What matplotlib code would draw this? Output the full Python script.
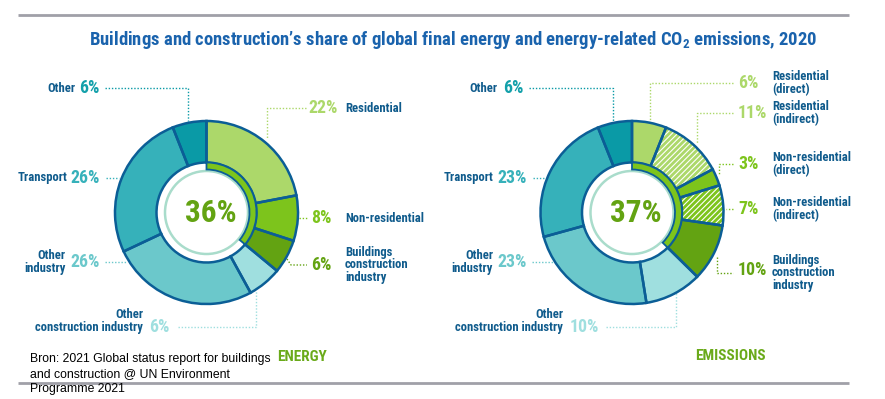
import numpy as np
import matplotlib
matplotlib.use("Agg")
import matplotlib.pyplot as plt
from matplotlib import font_manager
from matplotlib.patches import Wedge

# data
energy_names = ["Residential", "Non-residential", "Buildings\nconstruction\nindustry",
                "Other\nconstruction industry", "Other\nindustry", "Transport", "Other"]
energy_values = [22, 8, 6, 6, 26, 26, 6]
energy_share = 36

emission_names = ["Residential\n(direct)", "Residential\n(indirect)", "Non-residential\n(direct)",
                  "Non-residential\n(indirect)", "Buildings\nconstruction\nindustry",
                  "Other\nconstruction industry", "Other\nindustry", "Transport", "Other"]
emission_values = [6, 11, 3, 7, 10, 10, 23, 23, 6]
emission_hatched = [False, True, False, True, False, False, False, False, False]
emission_share = 37

# colours
LGREEN = "#acd86a"
BGREEN = "#7dc41c"
DGREEN = "#63a312"
PTEAL = "#9fdfdf"
TEAL = "#6bc8cb"
MTEAL = "#36b1ba"
DTEAL = "#0a9aa6"
EDGE = "#0b5e96"
LABEL = "#0f5b8c"
TITLE = "#1a63ad"

energy_colors = [LGREEN, BGREEN, DGREEN, PTEAL, TEAL, MTEAL, DTEAL]
emission_colors = [LGREEN, LGREEN, BGREEN, BGREEN, DGREEN, PTEAL, TEAL, MTEAL, DTEAL]
pct_colors_e = [LGREEN, BGREEN, DGREEN, PTEAL, TEAL, MTEAL, "#13a0aa"]
pct_colors_m = [LGREEN, LGREEN, BGREEN, BGREEN, DGREEN, PTEAL, TEAL, MTEAL, "#13a0aa"]

avail = {f.name for f in font_manager.fontManager.ttflist}
COND = "DejaVu Sans"
for f in ["Roboto Condensed", "Liberation Sans Narrow", "Roboto", "Open Sans"]:
    if f in avail:
        COND = f
        break
narrow = COND in ("Roboto Condensed", "Liberation Sans Narrow")
k = 1.0 if narrow else 0.85

plt.rcParams["mathtext.fontset"] = "custom"
plt.rcParams["mathtext.rm"] = COND + ":bold"
plt.rcParams["mathtext.default"] = "rm"
plt.rcParams["hatch.linewidth"] = 0.8

W, H = 885, 399
fig = plt.figure(figsize=(8.85, 3.99), dpi=100)
ax = fig.add_axes([0, 0, 1, 1])


def Y(y):
    return H - y


def lead(pts, color):
    xs = [p[0] for p in pts]
    ys = [Y(p[1]) for p in pts]
    ax.plot(xs, ys, color=color, lw=1.0, ls=(0, (1, 1.3)), zorder=2)


R, RIN = 91.5, 50


def donut(cx, cy, values, colors, share, hatched=None):
    c = (cx, Y(cy))
    wedges, _ = ax.pie(values, colors=colors, radius=R, center=c, startangle=90,
                       counterclock=False, wedgeprops=dict(width=R - RIN, linewidth=0))
    if hatched:
        for w, h in zip(wedges, hatched):
            if h:
                ax.add_patch(Wedge(c, R, w.theta1, w.theta2, width=R - RIN, facecolor="none",
                                   edgecolor="white", linewidth=0, hatch="//////", zorder=3))
    w2, _ = ax.pie(values, colors=["none"] * len(values), radius=R, center=c, startangle=90,
                   counterclock=False, wedgeprops=dict(width=R - RIN, linewidth=1.8,
                                                      edgecolor=EDGE))
    for w in w2:
        w.set_zorder(4)
    ax.add_patch(plt.Circle(c, 41.5, facecolor="none", edgecolor="#a9dccb", lw=1.8, zorder=3))
    g, _ = ax.pie([share, sum(values) - share], colors=[BGREEN, "none"], radius=RIN, center=c,
                  startangle=90, counterclock=False,
                  wedgeprops=dict(width=7, linewidth=1.3, edgecolor=EDGE))
    g[1].set_edgecolor("none")
    for w in g:
        w.set_zorder(5)
    ax.text(cx + 4, Y(cy + 1), f"{share}%", ha="center", va="center", color=DGREEN,
            fontsize=22.5 * k, fontweight="bold", family=COND, zorder=6)


donut(206.5, 212.5, energy_values, energy_colors, energy_share)
donut(632, 212.5, emission_values, emission_colors, emission_share, emission_hatched)

NS = 9.1 * k
PS = 12.8 * k


def label(name, pct, pcol, px, py, nx, ny, pha, nha):
    ax.text(px, Y(py), pct, color=pcol, fontsize=PS, fontweight="bold", family=COND,
            ha=pha, va="center")
    ax.text(nx, Y(ny), name, color=LABEL, fontsize=NS, fontweight="bold", family=COND,
            ha=nha, va="center", linespacing=0.92, multialignment=nha)


# energy labels
e_pos = [
    (338, 108, 345, 108, "right", "left"),
    (332, 218, 345, 218, "right", "left"),
    (332, 265, 345, 265, "right", "left"),
    (169, 327, 143, 321, "right", "right"),
    (100, 262, 66, 262, "right", "right"),
    (100, 178, 67, 178, "right", "right"),
    (100, 88, 75, 88, "right", "right"),
]
for n, v, c, p in zip(energy_names, energy_values, pct_colors_e, e_pos):
    label(n, f"{v}%", c, p[0], p[1], p[2], p[3], p[4], p[5])

e_leads = [
    [(306, 108), (266.5, 108), (266.5, 138)],
    [(299, 218), (307, 218)],
    [(287, 259), (291, 265), (307, 265)],
    [(178, 327), (256, 327), (256, 291)],
    [(105, 262), (126, 262)],
    [(106, 178), (119, 178)],
    [(105, 88), (188, 88), (188, 121)],
]
for pts, c in zip(e_leads, energy_colors):
    lead(pts, c)

# emissions labels
m_pos = [
    (738, 83, 772, 83),
    (738, 113, 772, 113),
    (738, 164, 772, 164),
    (738, 209, 772, 209),
    (738, 270, 772, 273),
]
for n, v, c, p in zip(emission_names[:5], emission_values[:5], pct_colors_m[:5], m_pos):
    label(n, f"{v}%", c, p[0], p[1], p[2], p[3], "left", "left")
m_pos_l = [
    (599, 327, 563, 321),
    (527, 262, 493, 262),
    (527, 178, 494, 178),
    (523, 88, 498, 88),
]
for n, v, c, p in zip(emission_names[5:], emission_values[5:], pct_colors_m[5:], m_pos_l):
    label(n, f"{v}%", c, p[0], p[1], p[2], p[3], "right", "right")

m_leads = [
    [(733, 83), (650, 83), (650, 122)],
    [(733, 113), (697, 113), (697, 143)],
    [(733, 164), (719, 164), (719, 175)],
    [(733, 209), (726, 209)],
    [(717, 257), (717, 273), (733, 273)],
    [(606, 327), (676, 327), (676, 293)],
    [(532, 262), (553, 262)],
    [(533, 178), (546, 178)],
    [(529, 88), (612.5, 88), (612.5, 121)],
]
for pts, c in zip(m_leads, emission_colors):
    lead(pts, c)

# title, subtitles, rules
ax.text(453, Y(40), "Buildings and construction\u2019s share of global final energy and energy-related CO$_{2}$ emissions, 2020",
        ha="center", va="center", color=TITLE, fontsize=13.4 * k, fontweight="bold", family=COND)
ax.text(302.5, Y(357), "ENERGY", ha="center", va="center", color="#6aaa1a",
        fontsize=11 * k, fontweight="bold", family=COND)
ax.text(730.5, Y(356), "EMISSIONS", ha="center", va="center", color="#6aaa1a",
        fontsize=11 * k, fontweight="bold", family=COND)
ax.plot([18, 849], [Y(15), Y(15)], color="#a0a0a8", lw=2, solid_capstyle="butt")
ax.plot([18, 849], [Y(383), Y(383)], color="#a0a0a8", lw=2, solid_capstyle="butt")
src = ["Bron: 2021 Global status report for buildings", "and construction @ UN Environment",
       "Programme 2021"]
for i, s in enumerate(src):
    ax.text(30, Y(359 + 15 * i), s, ha="left", va="center", color="black", fontsize=8.8,
            family="Liberation Sans")

ax.set_xlim(0, W)
ax.set_ylim(0, H)
ax.set_aspect("auto")
ax.axis("off")

fig.savefig("out.png", dpi=100)
